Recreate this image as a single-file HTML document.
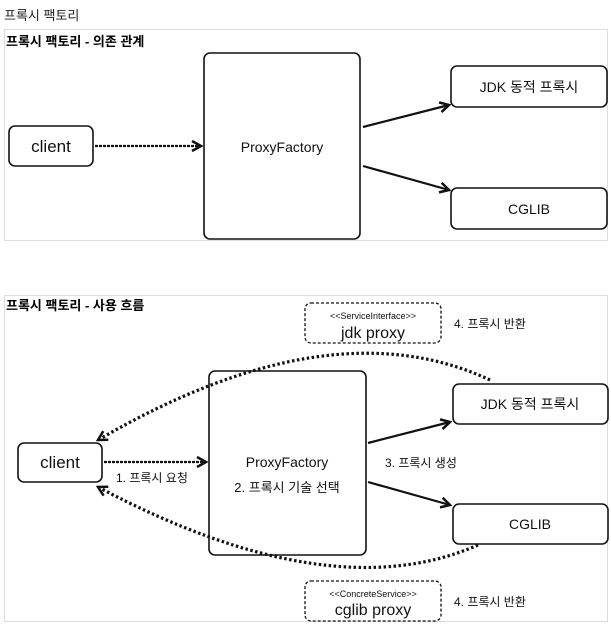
<!DOCTYPE html>
<html><head><meta charset="utf-8"><style>
body{margin:0;width:611px;height:625px;background:#fff;overflow:hidden;font-family:"Liberation Sans","Noto Sans CJK KR",sans-serif;}
</style></head><body>
<svg width="611" height="625" xmlns="http://www.w3.org/2000/svg" font-family="Liberation Sans, Noto Sans CJK KR, sans-serif">
<defs>
<marker id="a" markerWidth="12" markerHeight="12" refX="10" refY="6" orient="auto" markerUnits="userSpaceOnUse"><path d="M1,1 L10,6 L1,11" fill="none" stroke="#111" stroke-width="2.5"/></marker>
</defs>
<text x="4" y="20" font-size="13" fill="#222">프록시 팩토리</text>
<rect x="4.5" y="29.5" width="603" height="211" fill="none" stroke="#ddd"/>
<text x="6" y="46" font-size="13" font-weight="bold">프록시 팩토리 - 의존 관계</text>
<g fill="#fff" stroke="#111" stroke-width="1.6">
<rect x="204" y="53" width="156" height="186" rx="6"/>
<rect x="9" y="126" width="84" height="40" rx="6"/>
<rect x="451" y="66" width="156" height="41" rx="6"/>
<rect x="451" y="188" width="156" height="41" rx="6"/>
</g>
<g font-size="14" text-anchor="middle" fill="#111">
<text x="51" y="152" font-size="17">client</text>
<text x="282" y="152">ProxyFactory</text>
<text x="529" y="92">JDK 동적 프록시</text>
<text x="529" y="214">CGLIB</text>
</g>
<g stroke="#111" stroke-width="2.2" fill="none" marker-end="url(#a)">
<line x1="95" y1="146" x2="201" y2="146" stroke-dasharray="3,1"/>
<line x1="363" y1="127" x2="449" y2="105"/>
<line x1="363" y1="166" x2="449" y2="190"/>
</g>

<rect x="4.5" y="295.5" width="603" height="326" fill="none" stroke="#ddd"/>
<text x="6" y="310" font-size="13" font-weight="bold">프록시 팩토리 - 사용 흐름</text>
<g fill="#fff" stroke="#111" stroke-width="1.3" stroke-dasharray="3,2">
<rect x="305" y="303" width="136" height="40" rx="6"/>
<rect x="305" y="581" width="136" height="40" rx="6"/>
</g>
<g text-anchor="middle" fill="#111">
<text x="373" y="319" font-size="9">&lt;&lt;ServiceInterface&gt;&gt;</text>
<text x="373" y="338" font-size="16">jdk proxy</text>
<text x="373" y="597" font-size="9">&lt;&lt;ConcreteService&gt;&gt;</text>
<text x="373" y="615" font-size="16">cglib proxy</text>
</g>
<g font-size="12" fill="#111">
<text x="454" y="328">4. 프록시 반환</text>
<text x="454" y="606">4. 프록시 반환</text>
<text x="116" y="482">1. 프록시 요청</text>
<text x="385" y="467">3. 프록시 생성</text>
</g>
<g fill="#fff" stroke="#111" stroke-width="1.6">
<rect x="209" y="371" width="157" height="184" rx="6"/>
<rect x="18" y="443" width="84" height="39" rx="6"/>
<rect x="453" y="384" width="155" height="40" rx="6"/>
<rect x="453" y="504" width="155" height="40" rx="6"/>
</g>
<g font-size="14" text-anchor="middle" fill="#111">
<text x="60" y="468" font-size="17">client</text>
<text x="287" y="467">ProxyFactory</text>
<text x="287" y="492" font-size="13">2. 프록시 기술 선택</text>
<text x="530" y="409">JDK 동적 프록시</text>
<text x="530" y="529">CGLIB</text>
</g>
<g stroke="#111" stroke-width="2.2" fill="none" marker-end="url(#a)">
<line x1="104" y1="462" x2="206" y2="462" stroke-dasharray="3,1"/>
<line x1="368" y1="443" x2="450" y2="422"/>
<line x1="368" y1="482" x2="450" y2="505"/>
</g>
<g stroke="#111" stroke-width="3.2" fill="none" stroke-dasharray="2.5,2.5" marker-end="url(#a)">
<path d="M490,380 Q330,305 98,440"/>
<path d="M478,545 Q330,610 98,487"/>
</g>
</svg>
</body></html>
